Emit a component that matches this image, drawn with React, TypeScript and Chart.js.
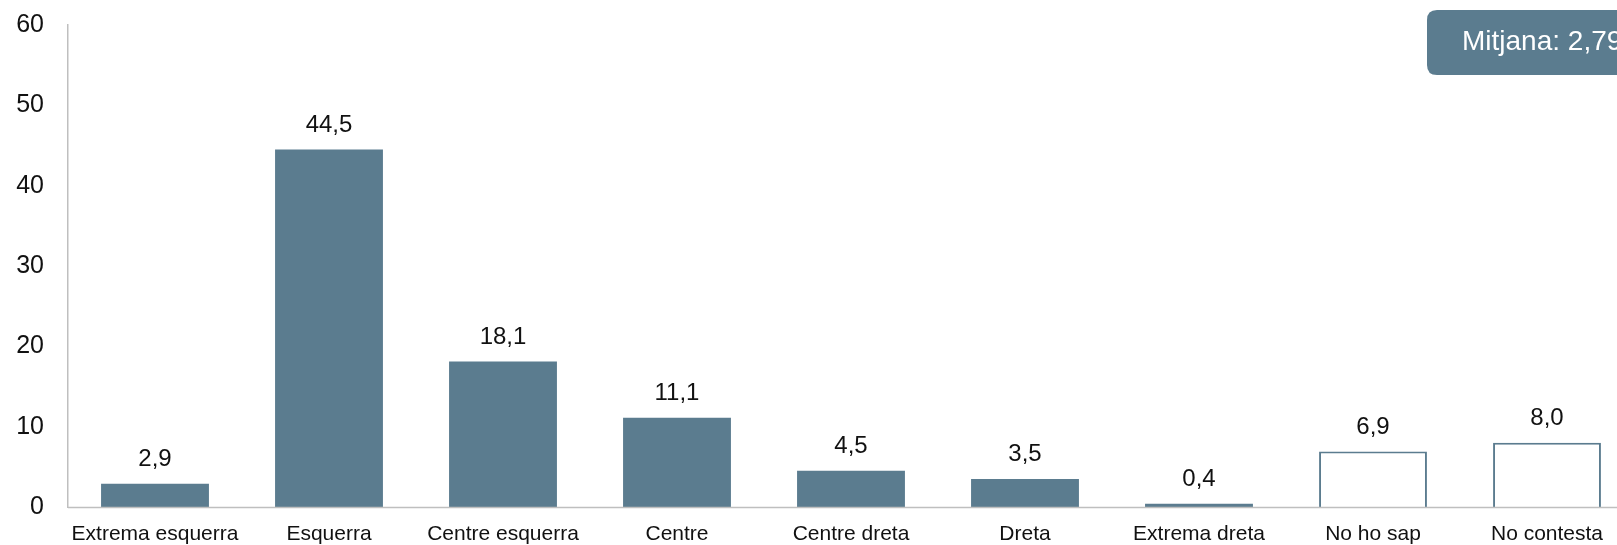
import React, { useEffect, useRef } from "react";
import { Chart, registerables } from "chart.js";

Chart.register(...registerables);

const categories = [
  "Extrema esquerra",
  "Esquerra",
  "Centre esquerra",
  "Centre",
  "Centre dreta",
  "Dreta",
  "Extrema dreta",
  "No ho sap",
  "No contesta",
];
const values = [2.9, 44.5, 18.1, 11.1, 4.5, 3.5, 0.4, 6.9, 8.0];
const hollow = [false, false, false, false, false, false, false, true, true];
const yTicks = [0, 10, 20, 30, 40, 50, 60];
const meanLabel = "Mitjana: 2,79";

const BLUE = "#5B7C8F";
const FONT = "'Liberation Sans', Arial, sans-serif";
const CANVAS_W = 1660;
const CANVAS_H = 545;

export default function App() {
  const ref = useRef<HTMLCanvasElement | null>(null);

  useEffect(() => {
    document.body.style.margin = "0";
    const canvas = ref.current!;
    const labelsPlugin = {
      id: "labelsPlugin",
      afterDatasetsDraw(chart: any) {
        const ctx = chart.ctx;
        const meta = chart.getDatasetMeta(0);
        ctx.save();
        ctx.fillStyle = "#111";
        ctx.font = `24px ${FONT}`;
        ctx.textAlign = "center";
        ctx.textBaseline = "alphabetic";
        meta.data.forEach((bar: any, i: number) => {
          const txt = values[i].toFixed(1).replace(".", ",");
          ctx.fillText(txt, bar.x, bar.y - 18);
        });
        // extended x axis line
        const area = chart.chartArea;
        ctx.strokeStyle = "#BFBFBF";
        ctx.lineWidth = 1.5;
        ctx.beginPath();
        ctx.moveTo(area.left, area.bottom + 0.5);
        ctx.lineTo(chart.width, area.bottom + 0.5);
        ctx.stroke();
        // mean box
        const bx = 1427, by = 10, bw = 300, bh = 65, r = 10;
        ctx.fillStyle = BLUE;
        ctx.beginPath();
        ctx.moveTo(bx + r, by);
        ctx.lineTo(bx + bw - r, by);
        ctx.quadraticCurveTo(bx + bw, by, bx + bw, by + r);
        ctx.lineTo(bx + bw, by + bh - r);
        ctx.quadraticCurveTo(bx + bw, by + bh, bx + bw - r, by + bh);
        ctx.lineTo(bx + r, by + bh);
        ctx.quadraticCurveTo(bx, by + bh, bx, by + bh - r);
        ctx.lineTo(bx, by + r);
        ctx.quadraticCurveTo(bx, by, bx + r, by);
        ctx.closePath();
        ctx.fill();
        ctx.fillStyle = "#FFFFFF";
        ctx.font = `28px ${FONT}`;
        ctx.textAlign = "left";
        ctx.textBaseline = "alphabetic";
        ctx.fillText(meanLabel, 1462, 50);
        ctx.restore();
      },
    };

    const chart = new Chart(canvas, {
      type: "bar",
      data: {
        labels: categories,
        datasets: [
          {
            data: values,
            backgroundColor: hollow.map((h) => (h ? "#FFFFFF" : BLUE)),
            borderColor: BLUE,
            borderWidth: hollow.map((h) => (h ? 2 : 0)),
            borderSkipped: "bottom",
            barPercentage: 0.62,
            categoryPercentage: 1,
          },
        ],
      },
      options: {
        responsive: false,
        animation: false,
        devicePixelRatio: 1,
        layout: { padding: { top: 25, right: CANVAS_W - 1634, left: 0, bottom: 0 } },
        plugins: {
          legend: { display: false },
          tooltip: { enabled: false },
        },
        scales: {
          x: {
            grid: { display: false, drawTicks: false },
            border: { display: false },
            ticks: {
              color: "#111",
              font: { family: FONT, size: 21 },
              maxRotation: 0,
              autoSkip: false,
              padding: 15,
            },
            afterFit: (s: any) => {
              s.height = 38;
              s.paddingLeft = 0;
              s.paddingRight = 0;
            },
          },
          y: {
            min: 0,
            max: 60,
            afterBuildTicks: (s: any) => {
              s.ticks = yTicks.map((v) => ({ value: v }));
            },
            grid: { display: false, drawTicks: false },
            border: { display: true, color: "#BFBFBF", width: 1.5 },
            ticks: {
              color: "#111",
              font: { family: FONT, size: 25 },
              padding: 24,
            },
            afterFit: (s: any) => {
              s.width = 68;
              s.paddingTop = 0;
              s.paddingBottom = 0;
            },
          },
        },
      },
      plugins: [labelsPlugin],
    });
    return () => chart.destroy();
  }, []);

  return (
    <div style={{ width: 1617, height: 545, overflow: "hidden" }}>
      <canvas ref={ref} width={CANVAS_W} height={CANVAS_H} style={{ display: "block" }} />
    </div>
  );
}
